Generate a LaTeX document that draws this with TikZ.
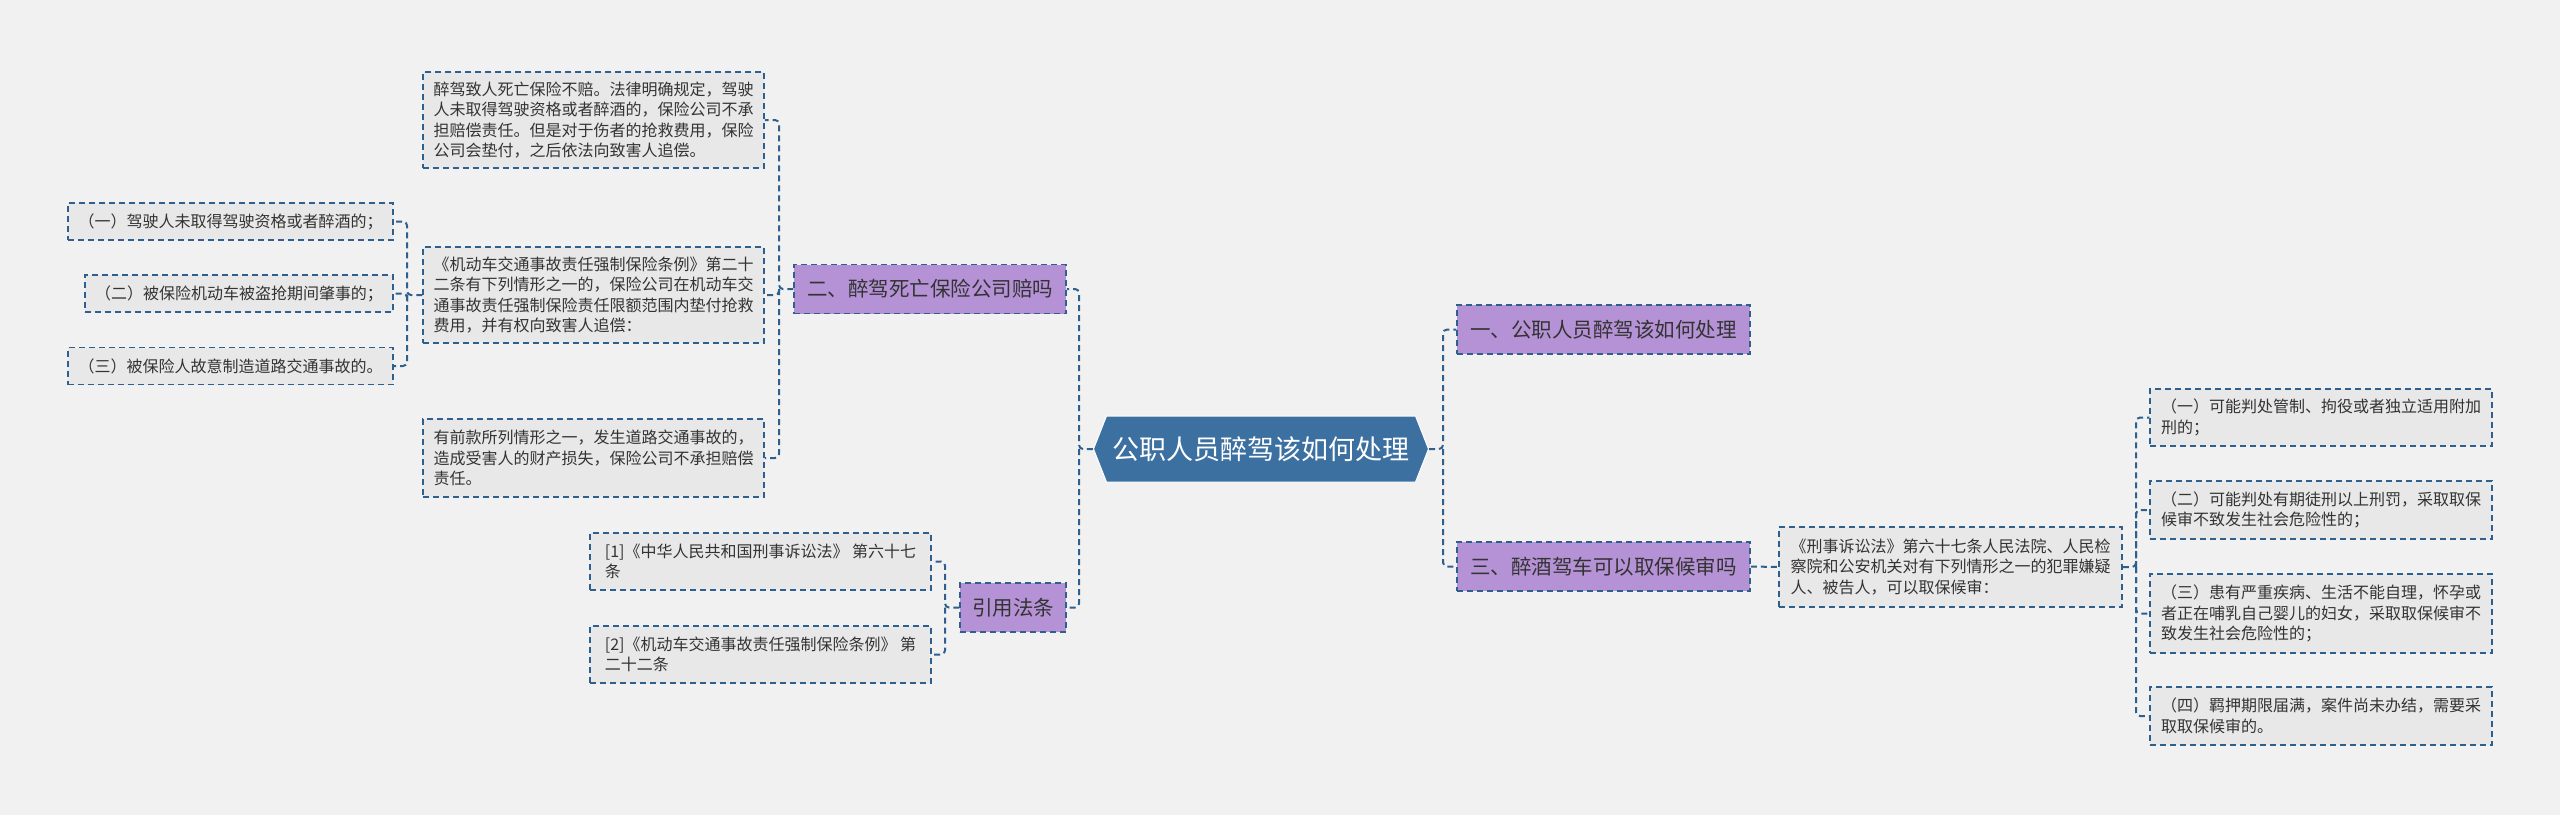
\documentclass[tikz,border=0pt]{standalone}
\usepackage{fontspec}
\setmainfont{Noto Sans CJK SC}
\usepackage{tikz}
\usetikzlibrary{positioning,shapes.symbols}
\usepackage{xcolor}
\definecolor{bgc}{HTML}{F1F1F1}
\definecolor{linec}{HTML}{2F5F8C}
\definecolor{leafc}{HTML}{E8E8E8}
\definecolor{topicc}{HTML}{B592D6}
\definecolor{rootc}{HTML}{3C70A0}
\definecolor{txtc}{HTML}{333333}

\begin{document}
\begin{tikzpicture}[x=1pt, y=-1pt,
    link/.style={draw=linec, line width=2pt, dash pattern=on 6pt off 4pt, rounded corners=4pt},
    leaf/.style={draw=linec, line width=1.5pt, dash pattern=on 6pt off 4pt, fill=leafc,
        text=txtc, align=left, inner xsep=8pt, inner ysep=0pt,
        font=\fontsize{16}{20.5}\selectfont},
    topic/.style={draw=linec, line width=1.5pt, dash pattern=on 6pt off 4pt, fill=topicc,
        text=txtc, inner sep=0pt, minimum height=49, font=\fontsize{20.5}{24}\selectfont},
    rootnode/.style={signal, signal to=west and east, signal pointer angle=137,
        fill=rootc, draw=white, line width=1pt, text=white, inner sep=0pt,
        minimum width=335, minimum height=66, font=\fontsize{27}{30}\selectfont}]
    % --- background and page size ---
    \fill[bgc] (0,0) rectangle (2560,815);
    \useasboundingbox (0,0) rectangle (2560,815);

    % --- root ---
    \node[rootnode] (root) at (1261,449) {公职人员醉驾该如何处理};

    % --- topics ---
    \node[topic, minimum width=293] (b1) at (1603.5,329.5) {一、公职人员醉驾该如何处理};
    \node[topic, minimum width=272] (b2) at (930,289) {二、醉驾死亡保险公司赔吗};
    \node[topic, minimum width=293] (b3) at (1603.5,566.5) {三、醉酒驾车可以取保候审吗};
    \node[topic, minimum width=106] (refs) at (1013,607.5) {引用法条};

    % --- children of topic two ---
    \node[leaf, minimum width=341, minimum height=96] (c1) at (593.5,120) {醉驾致人死亡保险不赔。法律明确规定，驾驶\\人未取得驾驶资格或者醉酒的，保险公司不承\\担赔偿责任。但是对于伤者的抢救费用，保险\\公司会垫付，之后依法向致害人追偿。};
    \node[leaf, minimum width=341, minimum height=96] (c2) at (593.5,295) {《机动车交通事故责任强制保险条例》第二十\\二条有下列情形之一的，保险公司在机动车交\\通事故责任强制保险责任限额范围内垫付抢救\\费用，并有权向致害人追偿：};
    \node[leaf, minimum width=341, minimum height=78] (c3) at (593.5,458) {有前款所列情形之一，发生道路交通事故的，\\造成受害人的财产损失，保险公司不承担赔偿\\责任。};
    % cases under c2
    \node[leaf, minimum width=325, minimum height=37] (l1) at (230.5,221.5) {（一）驾驶人未取得驾驶资格或者醉酒的；};
    \node[leaf, minimum width=308, minimum height=37] (l2) at (239,293.5) {（二）被保险机动车被盗抢期间肇事的；};
    \node[leaf, minimum width=325, minimum height=37] (l3) at (230.5,366) {（三）被保险人故意制造道路交通事故的。};

    % --- cited laws ---
    \node[leaf, minimum width=341, minimum height=57] (r1) at (760.5,561.5) {[1]《中华人民共和国刑事诉讼法》 第六十七\\条};
    \node[leaf, minimum width=341, minimum height=57] (r2) at (760.5,654.5) {[2]《机动车交通事故责任强制保险条例》 第\\二十二条};

    % --- children of topic three ---
    \node[leaf, minimum width=343, minimum height=80] (s) at (1950.5,567) {《刑事诉讼法》第六十七条人民法院、人民检\\察院和公安机关对有下列情形之一的犯罪嫌疑\\人、被告人，可以取保候审：};
    \node[leaf, minimum width=342, minimum height=57] (t1) at (2321,417.5) {（一）可能判处管制、拘役或者独立适用附加\\刑的；};
    \node[leaf, minimum width=342, minimum height=58] (t2) at (2321,510) {（二）可能判处有期徒刑以上刑罚，采取取保\\候审不致发生社会危险性的；};
    \node[leaf, minimum width=342, minimum height=79] (t3) at (2321,613.5) {（三）患有严重疾病、生活不能自理，怀孕或\\者正在哺乳自己婴儿的妇女，采取取保候审不\\致发生社会危险性的；};
    \node[leaf, minimum width=342, minimum height=58] (t4) at (2321,716) {（四）羁押期限届满，案件尚未办结，需要采\\取取保候审的。};

    % --- connectors ---
    \coordinate (jl) at (1079,449);
    \coordinate (jr) at (1443,449);
    \draw[link] (root.west) -- (jl) |- (b2.east);
    \draw[link] (jl) |- (refs.east);
    \draw[link] (root.east) -- (jr) |- (b1.west);
    \draw[link] (jr) |- (b3.west);

    \coordinate (j2) at (779,289);
    \draw[link] (b2.west) -- (j2) |- (c1.east);
    \draw[link] (j2) |- (c2.east);
    \draw[link] (j2) |- (c3.east);

    \coordinate (jc) at (407,295);
    \draw[link] (c2.west) -- (jc) |- (l1.east);
    \draw[link] (jc) |- (l2.east);
    \draw[link] (jc) |- (l3.east);

    \coordinate (jf) at (945,607.5);
    \draw[link] (refs.west) -- (jf) |- (r1.east);
    \draw[link] (jf) |- (r2.east);

    \draw[link] (b3.east) -- (s.west);
    \coordinate (js) at (2136,567);
    \draw[link] (s.east) -- (js) |- (t1.west);
    \draw[link] (js) |- (t2.west);
    \draw[link] (js) |- (t3.west);
    \draw[link] (js) |- (t4.west);
\end{tikzpicture}
\end{document}
